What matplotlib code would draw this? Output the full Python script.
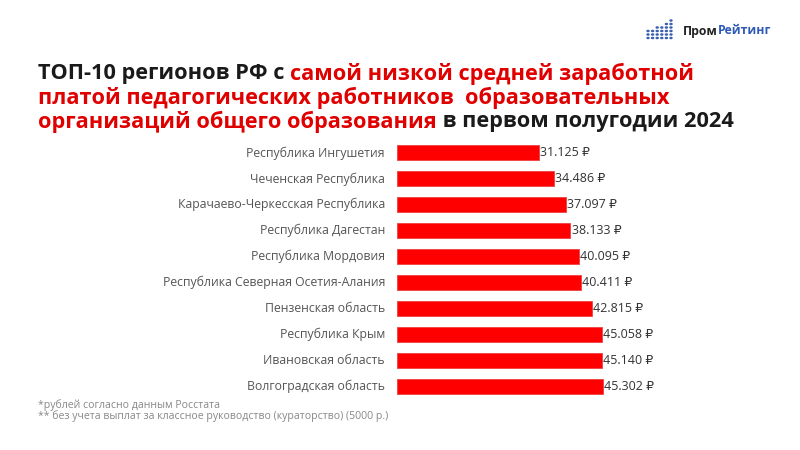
import numpy as np
import matplotlib.pyplot as plt

regions = ['Республика Ингушетия', 'Чеченская Республика', 'Карачаево-Черкесская Республика',
           'Республика Дагестан', 'Республика Мордовия', 'Республика Северная Осетия-Алания',
           'Пензенская область', 'Республика Крым', 'Ивановская область', 'Волгоградская область']
salary = [31125, 34486, 37097, 38133, 40095, 40411, 42815, 45058, 45140, 45302]

title_parts = [
    [('ТОП-10 регионов РФ с ', '#1a1a1a'), ('самой низкой средней заработной', '#e00000')],
    [('платой педагогических работников  образовательных', '#e00000')],
    [('организаций общего образования', '#e00000'), (' в первом полугодии 2024', '#1a1a1a')],
]
notes = ['*рублей согласно данным Росстата',
         '** без учета выплат за классное руководство (кураторство) (5000 р.)']

plt.rcParams['font.family'] = ['Open Sans', 'DejaVu Sans']

fig = plt.figure(figsize=(8, 4.5), dpi=100)
ax = fig.add_axes([397/800, 1-399/450, 400/800, 259/450])

y = np.arange(len(regions))
ax.barh(y, salary, height=0.58, color='#ff0000', edgecolor='#f04040', linewidth=0.6)
ax.set_xlim(0, 400/4.547*1000)
ax.set_ylim(len(regions)-0.5, -0.5)
ax.axis('off')

for i, (r, v) in enumerate(zip(regions, salary)):
    ax.text(-12/4.547*1000, i, r, ha='right', va='center', fontsize=8.8, color='#555555')
    ax.text(v + 250, i, f'{v:,}'.replace(',', '.') + ' ₽', ha='left', va='center',
            fontsize=9, color='#333333')

# заголовок разными цветами
fig.canvas.draw()
rend = fig.canvas.get_renderer()
line_y = [74, 98, 122]
for parts, yy in zip(title_parts, line_y):
    x = 38
    for txt, col in parts:
        t = fig.text(x/800, 1-yy/450, txt, fontsize=15.7, fontweight='bold', color=col,
                     va='center', ha='left')
        bb = t.get_window_extent(rend)
        x += bb.width

for k, n in enumerate(notes):
    fig.text(38/800, 1-(405+k*11)/450, n, fontsize=7.6, color='#888888', va='center')

# логотип
heights = [3, 3, 4, 4, 5, 6]
for j, h in enumerate(heights):
    for m in range(h):
        fig.patches.append(plt.Circle(((648+j*4.6)/800, 1-(38-m*3.5)/450), 1.0/800,
                                      transform=fig.transFigure, color='#3a5fb0'))
t1 = fig.text(683/800, 1-31/450, 'Пром', fontsize=8.8, fontweight='bold', color='#222222', va='center')
bb = t1.get_window_extent(rend)
fig.text((683+bb.width)/800, 1-31/450, 'Рейтинг', fontsize=8.8, fontweight='bold', color='#2f5bb7', va='center')

fig.savefig('out.png', dpi=100)
